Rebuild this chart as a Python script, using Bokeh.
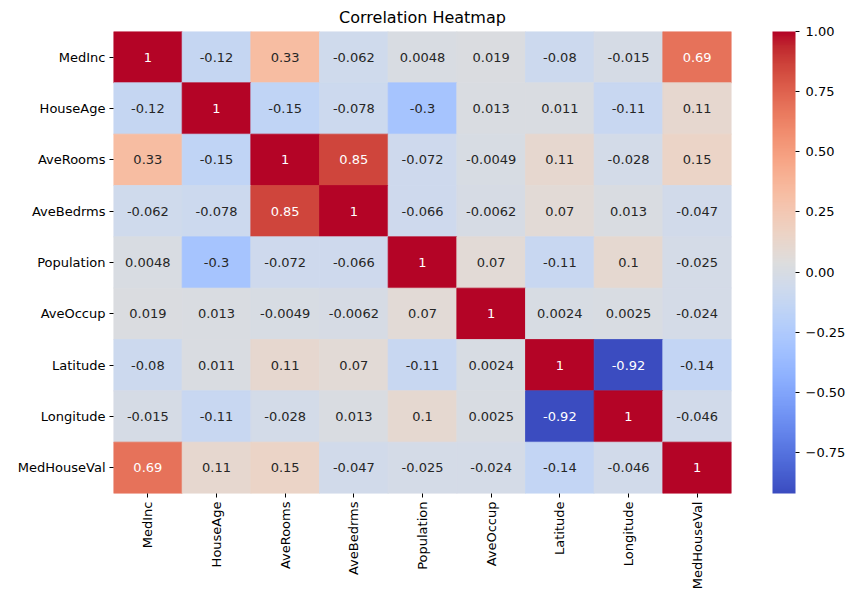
import numpy as np
from bokeh.plotting import figure
from bokeh.models import ColumnDataSource, LinearColorMapper, ColorBar, FixedTicker
from bokeh.core.properties import value
from bokeh.embed import file_html
from bokeh.resources import INLINE

features = ["MedInc", "HouseAge", "AveRooms", "AveBedrms", "Population",
            "AveOccup", "Latitude", "Longitude", "MedHouseVal"]

row_medinc = [1, -0.12, 0.33, -0.062, 0.0048, 0.019, -0.08, -0.015, 0.69]
row_houseage = [-0.12, 1, -0.15, -0.078, -0.3, 0.013, 0.011, -0.11, 0.11]
row_averooms = [0.33, -0.15, 1, 0.85, -0.072, -0.0049, 0.11, -0.028, 0.15]
row_avebedrms = [-0.062, -0.078, 0.85, 1, -0.066, -0.0062, 0.07, 0.013, -0.047]
row_population = [0.0048, -0.3, -0.072, -0.066, 1, 0.07, -0.11, 0.1, -0.025]
row_aveoccup = [0.019, 0.013, -0.0049, -0.0062, 0.07, 1, 0.0024, 0.0025, -0.024]
row_latitude = [-0.08, 0.011, 0.11, 0.07, -0.11, 0.0024, 1, -0.92, -0.14]
row_longitude = [-0.015, -0.11, -0.028, 0.013, 0.1, 0.0025, -0.92, 1, -0.046]
row_medhouseval = [0.69, 0.11, 0.15, -0.047, -0.025, -0.024, -0.14, -0.046, 1]

colorbar_ticks = [-0.75, -0.5, -0.25, 0.0, 0.25, 0.5, 0.75, 1.0]
colorbar_labels = ["\u22120.75", "\u22120.50", "\u22120.25", "0.00", "0.25", "0.50", "0.75", "1.00"]

rows = [row_medinc, row_houseage, row_averooms, row_avebedrms, row_population,
        row_aveoccup, row_latitude, row_longitude, row_medhouseval]

# coolwarm colormap (Moreland anchor table)
cw = [(59, 76, 192), (68, 90, 204), (77, 104, 215), (87, 117, 225), (98, 130, 234),
      (108, 142, 241), (119, 154, 247), (130, 165, 251), (141, 176, 254), (152, 185, 255),
      (163, 194, 255), (174, 201, 253), (184, 208, 249), (194, 213, 244), (204, 217, 238),
      (213, 219, 230), (221, 221, 221), (229, 216, 209), (236, 211, 197), (241, 204, 185),
      (245, 196, 173), (247, 187, 160), (247, 177, 148), (247, 166, 135), (244, 154, 123),
      (241, 141, 111), (236, 127, 99), (229, 112, 88), (222, 96, 77), (213, 80, 66),
      (203, 62, 56), (192, 40, 47), (180, 4, 38)]
cw = np.array(cw, dtype=float)
anch = np.linspace(0, 1, len(cw))
t = np.linspace(0, 1, 256)
rgb = np.stack([np.interp(t, anch, cw[:, k]) for k in range(3)], axis=1)
palette = ["#%02x%02x%02x" % tuple(int(round(c)) for c in r) for r in rgb]

vmin, vmax = -0.92, 1.0
mapper = LinearColorMapper(palette=palette, low=vmin, high=vmax)


def fmt(v):
    if v == 1:
        return "1"
    return ("%.2g" % v)


def text_color(v):
    f = (v - vmin) / (vmax - vmin)
    idx = int(min(255, max(0, round(f * 255))))
    r, g, b = rgb[idx] / 255.0
    def lin(c):
        return c / 12.92 if c <= 0.03928 else ((c + 0.055) / 1.055) ** 2.4
    lum = 0.2126 * lin(r) + 0.7152 * lin(g) + 0.0722 * lin(b)
    return "#ffffff" if lum < 0.408 else "#262626"


xs, ys, vals, labels, tcols = [], [], [], [], []
for i, rname in enumerate(features):
    for j, cname in enumerate(features):
        v = rows[i][j]
        xs.append(cname)
        ys.append(rname)
        vals.append(v)
        labels.append(fmt(v))
        tcols.append(text_color(v))

src = ColumnDataSource(dict(x=xs, y=ys, v=vals, label=labels, tc=tcols))

p = figure(x_range=features, y_range=list(reversed(features)),
           frame_width=618, frame_height=462,
           min_border_left=113, min_border_top=24, min_border_bottom=10,
           min_border_right=10,
           output_backend="svg", toolbar_location=None,
           title="Correlation Heatmap")

p.rect(x="x", y="y", width=1, height=1, source=src,
       fill_color={"field": "v", "transform": mapper},
       line_color={"field": "v", "transform": mapper}, line_width=0.8)
p.text(x="x", y="y", text="label", source=src, text_color="tc",
       text_align="center", text_baseline="middle",
       text_font=value("DejaVu Sans"), text_font_size="13px")

p.title.align = "center"
p.title.text_font = "DejaVu Sans"
p.title.text_font_size = "16px"
p.title.text_font_style = "normal"
p.title.text_color = "#000000"

p.grid.visible = False
p.outline_line_color = None
for ax in (p.xaxis[0], p.yaxis[0]):
    ax.axis_line_color = None
    ax.major_tick_in = 0
    ax.major_tick_out = 4
    ax.major_tick_line_color = "#000000"
    ax.minor_tick_line_color = None
    ax.major_label_text_font = "DejaVu Sans"
    ax.major_label_text_font_size = "13px"
    ax.major_label_text_color = "#000000"
    ax.major_label_standoff = 4
p.xaxis.major_label_orientation = np.pi / 2

cb = ColorBar(color_mapper=mapper, width=23, height=462, location=(41, 0),
              padding=0, margin=0, bar_line_color=None,
              ticker=FixedTicker(ticks=colorbar_ticks),
              major_label_overrides={t_: l_ for t_, l_ in zip(colorbar_ticks, colorbar_labels)},
              major_tick_in=0, major_tick_out=4, major_tick_line_color="#000000",
              minor_tick_line_color=None,
              major_label_text_font="DejaVu Sans", major_label_text_font_size="13px",
              major_label_text_color="#000000", label_standoff=6,
              background_fill_color=None, border_line_color=None)
p.add_layout(cb, "right")

open("out.html", "w").write(file_html(p, INLINE))
